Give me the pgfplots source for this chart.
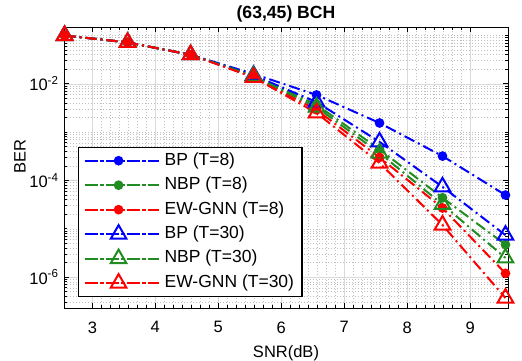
\documentclass[border=0pt]{standalone}
\usepackage{fontspec}
\setmainfont{Liberation Sans}
\usepackage{pgfplots}
\pgfplotsset{compat=1.18}
\definecolor{mblue}{rgb}{0,0,1}
\definecolor{mgreen}{rgb}{0.13,0.55,0.13}
\definecolor{mred}{rgb}{1,0,0}

\pgfplotsset{
  dd/.style={line width=2bp, dash pattern=on 11bp off 4bp on 2bp off 4bp},
  dot/.style={dd, mark=*, mark size=3.8bp, mark options={solid}},
  tri/.style={dd, mark=triangle, mark size=9bp, mark options={solid, line width=2bp, fill=none}},
}

\begin{document}
\fontsize{16bp}{19bp}\selectfont
\begin{tikzpicture}
\useasboundingbox (-64bp,-53bp) rectangle (458bp,308bp);
\begin{axis}[
  at={(0,0)}, anchor=south west,
  scale only axis, width=444bp, height=281bp,
  ymode=log,
  xmin=2.55, xmax=9.6, ymin=2.3e-7, ymax=0.15,
  xtick={3,4,5,6,7,8,9},
  minor x tick num=6,
  ytick={1e-6,1e-4,1e-2},
  yticklabels={10\textsuperscript{-6},10\textsuperscript{-4},10\textsuperscript{-2}},
  minor ytick={3e-7,4e-7,5e-7,6e-7,7e-7,8e-7,9e-7,
    2e-6,3e-6,4e-6,5e-6,6e-6,7e-6,8e-6,9e-6,1e-5,
    2e-5,3e-5,4e-5,5e-5,6e-5,7e-5,8e-5,9e-5,
    2e-4,3e-4,4e-4,5e-4,6e-4,7e-4,8e-4,9e-4,1e-3,
    2e-3,3e-3,4e-3,5e-3,6e-3,7e-3,8e-3,9e-3,
    2e-2,3e-2,4e-2,5e-2,6e-2,7e-2,8e-2,9e-2,1e-1},
  /pgf/number format/assume math mode=true,
  tick label style={font=\fontsize{16.5bp}{19bp}\selectfont},
  xticklabel style={yshift=-8bp},
  tick align=inside,
  major tick length=5bp, minor tick length=3bp,
  grid=both,
  major grid style={gray!30, line width=0.6bp},
  minor grid style={gray!50, line width=0.6bp, dash pattern=on 1bp off 2bp},
  axis line style={line width=1bp},
  every tick/.style={black, line width=0.8bp},
  xlabel={SNR(dB)},
  ylabel={BER},
  xlabel style={at={(axis description cs:0.5,-0.162)}, anchor=center, font=\fontsize{16.5bp}{19bp}\selectfont},
  ylabel style={at={(axis description cs:-0.099,0.54)}, anchor=center, font=\fontsize{16.5bp}{19bp}\selectfont},
  title={\textbf{(63,45) BCH}},
  title style={at={(axis description cs:0.5,1)}, anchor=center, yshift=7bp, font=\fontsize{17.6bp}{20bp}\selectfont},
  clip=false,
  legend cell align=left,
  legend style={at={(0.0315,0.039)}, anchor=south west, draw=black, line width=1.2bp,
    fill=white, font=\fontsize{17.5bp}{20bp}\selectfont, row sep=1.8bp, inner xsep=5bp,
    nodes={inner sep=3bp, text depth=4bp}},
  legend image code/.code={\path (-2bp,0bp) -- (74bp,0bp);
    \draw[mark repeat=2, mark phase=2] plot coordinates {(0bp,0bp) (32bp,0bp) (64bp,0bp)};},
]
\addplot[color=mblue, dot] coordinates {
  (2.56,0.10) (3.56,0.072) (4.56,0.040) (5.56,0.016) (6.56,5.9e-3) (7.56,1.55e-3) (8.56,3.2e-4) (9.56,5.0e-5)};
\addlegendentry{BP (T=8)}
\addplot[color=mgreen, dot] coordinates {
  (2.56,0.10) (3.56,0.072) (4.56,0.040) (5.56,0.015) (6.56,3.7e-3) (7.56,4.4e-4) (8.56,4.4e-5) (9.56,4.7e-6)};
\addlegendentry{NBP (T=8)}
\addplot[color=mred, dot] coordinates {
  (2.56,0.10) (3.56,0.072) (4.56,0.040) (5.56,0.014) (6.56,2.9e-3) (7.56,3.0e-4) (8.56,2.7e-5) (9.56,1.2e-6)};
\addlegendentry{EW-GNN (T=8)}
\addplot[color=mblue, tri] coordinates {
  (2.56,0.10) (3.56,0.072) (4.56,0.040) (5.56,0.015) (6.56,4.2e-3) (7.56,6.3e-4) (8.56,7.4e-5) (9.56,7.4e-6)};
\addlegendentry{BP (T=30)}
\addplot[color=mgreen, tri] coordinates {
  (2.56,0.10) (3.56,0.072) (4.56,0.040) (5.56,0.0145) (6.56,3.3e-3) (7.56,3.7e-4) (8.56,3.2e-5) (9.56,2.5e-6)};
\addlegendentry{NBP (T=30)}
\addplot[color=mred, tri] coordinates {
  (2.56,0.10) (3.56,0.072) (4.56,0.040) (5.56,0.0136) (6.56,2.5e-3) (7.56,2.3e-4) (8.56,1.2e-5) (9.56,3.7e-7)};
\addlegendentry{EW-GNN (T=30)}
\end{axis}
\end{tikzpicture}
\end{document}
